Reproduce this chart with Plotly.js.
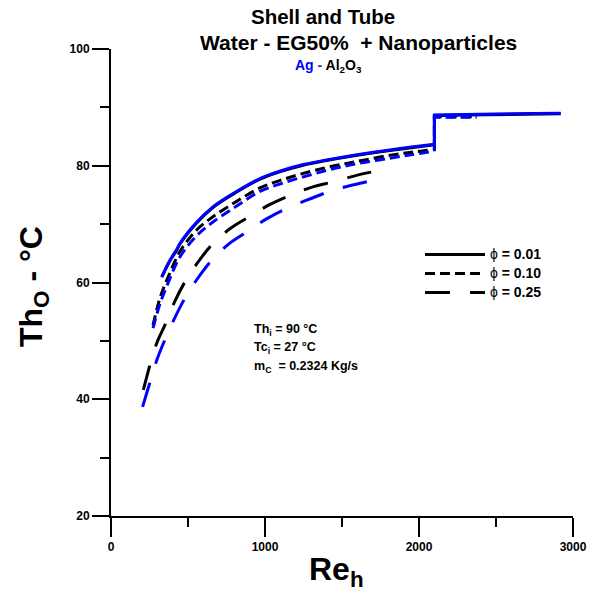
<!DOCTYPE html>
<html>
<head>
<meta charset="utf-8">
<script src="https://cdn.plot.ly/plotly-3.0.1.min.js"></script>
<style>html,body{margin:0;padding:0;background:#fff;}#chart{width:597px;height:593px;}</style>
</head>
<body>
<div id="chart"></div>
<script>
// Reynolds numbers and outlet temperatures
// phi = 0.01 (solid): curved part up to the jump, then the flat part after it
const reSolidLow = [330, 380, 426, 448, 556, 664, 816, 967, 1100, 1248, 1400, 1530, 1650, 1811, 1950, 2100];
const agSolidLow = [61.0, 63.7, 65.6, 66.7, 70.3, 73.0, 75.6, 77.8, 79.1, 80.2, 81.0, 81.6, 82.1, 82.7, 83.2, 83.7];
const alSolidLow = [60.9, 63.6, 65.5, 66.6, 70.2, 72.9, 75.5, 77.7, 79.0, 80.1, 80.9, 81.5, 82.0, 82.6, 83.1, 83.6];
const reSolidHigh = [2100, 2100, 2300, 2500, 2700, 2920];
const agSolidHigh = [83.7, 88.7, 88.8, 88.9, 89.0, 89.0];
const alSolidHigh = [83.6, 88.6, 88.7, 88.8, 88.9, 88.9];

// phi = 0.10 (short dash)
const reShortLow = [273, 320, 372, 448, 556, 664, 816, 967, 1100, 1248, 1400, 1530, 1650, 1811, 1950, 2100];
const alShortLow = [52.7, 57.5, 61.0, 65.3, 69.0, 71.3, 73.9, 76.2, 77.5, 78.7, 79.7, 80.4, 81.0, 81.8, 82.3, 82.8];
const agShortLow = [52.2, 56.5, 60.0, 64.4, 68.0, 70.4, 73.1, 75.6, 76.9, 78.1, 79.2, 80.0, 80.6, 81.3, 81.9, 82.5];
const reShortHigh = [2100, 2100, 2375];
const alShortHigh = [82.8, 88.4, 88.4];
const agShortHigh = [82.5, 88.3, 88.3];

// phi = 0.25 (long dash)
const reLongAl = [210, 260, 300, 350, 415, 480, 560, 653, 772, 900, 1020, 1170, 1300, 1450, 1600, 1745];
const alLong = [41.6, 46.5, 49.8, 52.7, 56.8, 60.1, 63.3, 66.4, 69.2, 71.3, 73.2, 75.0, 76.3, 77.3, 78.4, 79.2];
const reLongAg = [205, 260, 300, 350, 415, 480, 560, 660, 760, 890, 1010, 1150, 1290, 1430, 1585, 1735];
const agLong = [38.7, 43.5, 46.9, 50.2, 54.0, 57.3, 60.6, 64.0, 66.5, 68.8, 70.9, 72.8, 74.3, 75.7, 76.8, 77.7];

const phiLabels = ['0.01', '0.10', '0.25'];
const xTicks = [0, 1000, 2000, 3000];
const xMinorTicks = [500, 1500, 2500];
const yTicks = [20, 40, 60, 80, 100];
const yMinorTicks = [30, 50, 70, 90];

const legendNames = phiLabels.map(v => '<span style="font-size:14px">ϕ <b>= ' + v + '</b></span>');

const BLUE = '#0000ff';
const BLACK = '#000000';
const SHORT = '10px,5px';
const LONG = '25px,20px';
const LW = 3;

function curve(x, y, color, dash, name) {
  const t = {x: x, y: y, mode: 'lines', line: {color: color, width: LW, shape: 'spline', smoothing: 1}, showlegend: !!name};
  if (dash) t.line.dash = dash;
  if (name) t.name = name;
  return t;
}
function step(x, y, color, dash) {
  const t = {x: x, y: y, mode: 'lines', line: {color: color, width: LW}, showlegend: false};
  if (dash) t.line.dash = dash;
  return t;
}

const traces = [
  // empty trace so the minor-tick overlay axes are drawn
  {x: [], y: [], xaxis: 'x2', yaxis: 'y2', mode: 'lines', showlegend: false, hoverinfo: 'skip'},
  curve(reSolidLow, alSolidLow, BLACK, null, legendNames[0]),
  curve(reShortLow, alShortLow, BLACK, SHORT, legendNames[1]),
  curve(reLongAl, alLong, BLACK, LONG, legendNames[2]),
  step(reSolidHigh, alSolidHigh, BLACK, null),
  step(reShortHigh, alShortHigh, BLACK, SHORT),
  curve(reShortLow, agShortLow, BLUE, SHORT, null),
  step(reShortHigh, agShortHigh, BLUE, SHORT),
  curve(reLongAg, agLong, BLUE, LONG, null),
  curve(reSolidLow, agSolidLow, BLUE, null, null),
  step(reSolidHigh, agSolidHigh, BLUE, null)
];

const FONT = 'Liberation Sans, Arial, sans-serif';
const W = 462, H = 467, L = 111, T = 49;
function px(x) { return (x - L) / W; }
function py(y) { return (T + H - y) / H; }

const axisCommon = {
  showgrid: false, zeroline: false, tickcolor: '#000', tickwidth: 2, ticks: 'outside'
};

const layout = {
  width: 597, height: 593,
  margin: {l: L, r: 597 - L - W, t: T, b: 593 - T - H},
  paper_bgcolor: '#fff', plot_bgcolor: '#fff',
  font: {family: FONT, color: '#000'},
  showlegend: true,
  legend: {
    x: px(420), y: py(240), xanchor: 'left', yanchor: 'top',
    bgcolor: 'rgba(0,0,0,0)', itemwidth: 60, tracegroupgap: 0,
    font: {family: FONT, size: 11, color: '#000'}
  },
  xaxis: Object.assign({}, axisCommon, {
    range: [0, 3000], tickvals: xTicks, ticktext: xTicks.map(String),
    showline: true, linecolor: '#000', linewidth: 2, ticklen: 19,
    tickfont: {family: FONT, size: 12, weight: 'bold'}
  }),
  xaxis2: Object.assign({}, axisCommon, {
    range: [0, 3000], overlaying: 'x', anchor: 'y', side: 'bottom',
    tickvals: xMinorTicks, showticklabels: false, showline: false, ticklen: 10
  }),
  yaxis: Object.assign({}, axisCommon, {
    range: [20, 100], tickvals: yTicks, ticktext: yTicks.map(String),
    showline: true, linecolor: '#000', linewidth: 2, ticklen: 17,
    tickfont: {family: FONT, size: 12, weight: 'bold'}
  }),
  yaxis2: Object.assign({}, axisCommon, {
    range: [20, 100], overlaying: 'y', anchor: 'x', side: 'left',
    tickvals: yMinorTicks, showticklabels: false, showline: false, ticklen: 10
  }),
  annotations: [
    {xref: 'paper', yref: 'paper', x: px(323), y: py(17), text: '<b>Shell and Tube</b>', showarrow: false, font: {size: 20.5}, xanchor: 'center', yanchor: 'middle'},
    {xref: 'paper', yref: 'paper', x: px(358), y: py(43), text: '<b>Water - EG50%  + Nanoparticles</b>', showarrow: false, font: {size: 21}, xanchor: 'center', yanchor: 'middle'},
    {xref: 'paper', yref: 'paper', x: px(328), y: py(66), text: '<b><span style="color:#0000ff">Ag</span> <span style="color:#3030b0">-</span> Al<sub>2</sub>O<sub>3</sub></b>', showarrow: false, font: {size: 14}, xanchor: 'center', yanchor: 'middle'},
    {xref: 'paper', yref: 'paper', x: px(336), y: py(571), text: '<b>Re<sub>h</sub></b>', showarrow: false, font: {size: 32}, xanchor: 'center', yanchor: 'middle'},
    {xref: 'paper', yref: 'paper', x: px(33), y: py(287), text: '<b>Th<sub>O</sub> - °C</b>', showarrow: false, font: {size: 32}, textangle: -90, xanchor: 'center', yanchor: 'middle'},
    {xref: 'paper', yref: 'paper', x: px(252), y: py(330), text: '<b>Th<sub>i</sub> = 90 °C</b>', showarrow: false, font: {size: 12.5}, xanchor: 'left', yanchor: 'middle'},
    {xref: 'paper', yref: 'paper', x: px(252), y: py(348), text: '<b>Tc<sub>i</sub> = 27 °C</b>', showarrow: false, font: {size: 12.5}, xanchor: 'left', yanchor: 'middle'},
    {xref: 'paper', yref: 'paper', x: px(252), y: py(367), text: '<b>m<sub>C</sub>  = 0.2324 Kg/s</b>', showarrow: false, font: {size: 12.5}, xanchor: 'left', yanchor: 'middle'}
  ]
};

Plotly.newPlot('chart', traces, layout, {staticPlot: true, displayModeBar: false});
</script>
</body>
</html>
